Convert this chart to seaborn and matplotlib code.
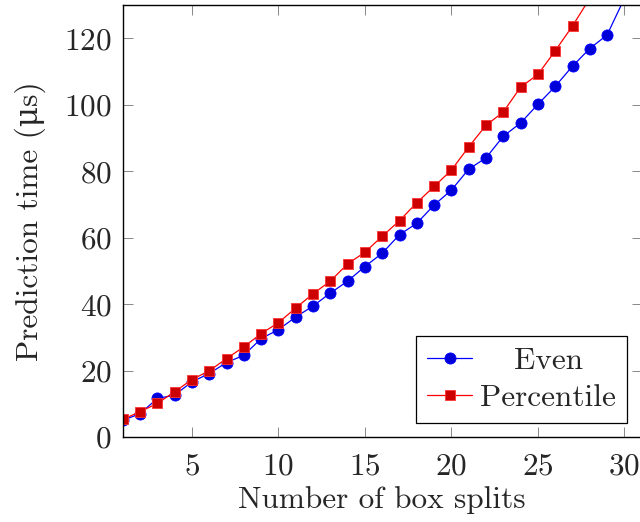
import matplotlib
matplotlib.use("Agg")
import matplotlib.pyplot as plt
from matplotlib.transforms import Affine2D
import numpy as np
import pandas as pd
import seaborn as sns

# ---- data ----
splits_even = list(range(1, 31))
even_time = [5.0, 7.0, 11.6, 12.6, 16.6, 19.1, 22.4, 24.6, 29.6, 32.3,
             36.1, 39.4, 43.3, 46.9, 51.3, 55.3, 60.9, 64.3, 69.8, 74.3,
             80.6, 84.0, 90.5, 94.5, 100.1, 105.5, 111.6, 116.9, 121.0, 132.0]
splits_pct = list(range(1, 29))
pct_time = [5.3, 7.6, 10.1, 13.6, 17.3, 19.9, 23.6, 27.1, 31.1, 34.4,
            38.8, 43.1, 46.9, 52.1, 55.6, 60.4, 65.1, 70.5, 75.4, 80.3,
            87.3, 93.8, 97.8, 105.3, 109.1, 116.2, 123.7, 132.0]
series_names = ["Even", "Percentile"]
x_ticks = [5, 10, 15, 20, 25, 30]
y_ticks = [0, 20, 40, 60, 80, 100, 120]

sns.set_theme(style="ticks")
plt.rcParams["font.family"] = ["cmr10", "DejaVu Serif"]
plt.rcParams["mathtext.fontset"] = "cm"
plt.rcParams["axes.formatter.use_mathtext"] = True

FS = 22.5

fig = plt.figure(figsize=(6.4, 5.22), dpi=100)
W, H = 640, 522
left_px, right_px, top_px, bot_px = 122.7, 641.7, 5.0, 437.0
ax = fig.add_axes([left_px / W, 1 - bot_px / H,
                   (right_px - left_px) / W, (bot_px - top_px) / H])

df_even = pd.DataFrame({"x": splits_even, "y": even_time})
df_pct = pd.DataFrame({"x": splits_pct, "y": pct_time})

sns.lineplot(data=df_even, x="x", y="y", ax=ax, color=(0, 0, 1), lw=0.9,
             marker="o", markersize=8, markerfacecolor=(0, 0, 0.85),
             markeredgecolor=(0, 0, 1), markeredgewidth=0.6,
             label=series_names[0])
sns.lineplot(data=df_pct, x="x", y="y", ax=ax, color=(1, 0, 0), lw=0.9,
             marker="s", markersize=7.5, markerfacecolor=(0.8, 0, 0),
             markeredgecolor=(1, 0.2, 0.2), markeredgewidth=0.6,
             label=series_names[1])

ax.set_xlim(1, 31)
ax.set_ylim(0, 130)
ax.set_xticks(x_ticks)
ax.set_yticks(y_ticks)
ax.tick_params(direction="in", top=True, right=True, length=7, width=0.7,
               color="#888888", labelsize=FS)
ax.tick_params(axis="x", pad=11)
ax.tick_params(axis="y", pad=8)
for s in ax.spines.values():
    s.set_color("black")
    s.set_linewidth(1.0)

ax.set_xlabel("Number of box splits", fontsize=FS, labelpad=4)
ax.set_ylabel("Prediction time (\u03bcs)", fontsize=FS, labelpad=13)

leg = ax.legend(loc="lower right", bbox_to_anchor=(0.9717, 0.0324),
                borderaxespad=0, fontsize=FS, frameon=True, fancybox=False,
                framealpha=1, edgecolor="black", handlelength=1.45,
                handletextpad=0.25, borderpad=0.35, labelspacing=0.3)
leg.get_frame().set_linewidth(0.9)

# center legend labels like pgfplots
fig.canvas.draw()
r = fig.canvas.get_renderer()
texts = leg.get_texts()
widths = [t.get_window_extent(r).width for t in texts]
wmax = max(widths)
for t, w in zip(texts, widths):
    dx = (wmax - w) / 2.0
    if dx > 0:
        t.set_transform(t.get_transform() + Affine2D().translate(dx, 0))

fig.savefig("out.png", dpi=100)
